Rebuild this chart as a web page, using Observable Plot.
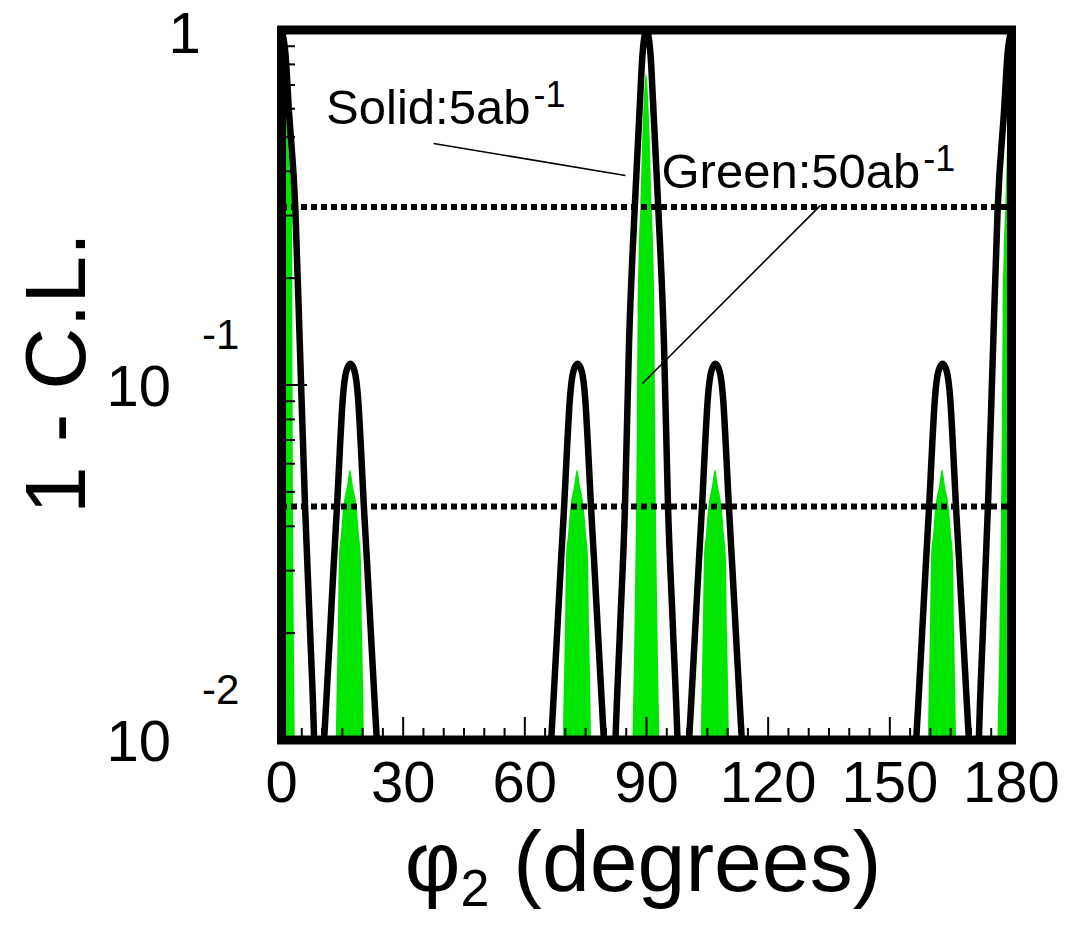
<!DOCTYPE html>
<html>
<head>
<meta charset="utf-8">
<script src="https://cdn.jsdelivr.net/npm/d3@7"></script>
<script src="https://cdn.jsdelivr.net/npm/@observablehq/plot@0.6"></script>
<style>
  html, body { margin: 0; padding: 0; background: #fff; }
  #chart svg { display: block; }
</style>
</head>
<body>
<div id="chart"></div>
<script>
// ---- Data ----
// Solid black curve: 1 - C.L. for 5 ab^-1 versus phi2 (degrees)
const solidPhi = [
  0, 1, 1.8, 3.4, 4.5, 5.8, 7, 8.1, 8.5, 9.3,
  10, 10.5, 11, 12, 13, 13.7, 14.4, 15.1, 16, 17, 18, 18.9, 19.6, 20.3, 21, 22, 23, 23.5, 24, 25,
  65, 66, 66.5, 67, 68, 69, 69.7, 70.4, 71.1, 72, 73, 74, 74.9, 75.6, 76.3, 77, 78, 79, 79.5, 80, 81,
  81.8, 82.3, 83.5, 84.7, 85.7, 87.1, 88.4, 89, 90, 91, 91.6, 92.9, 94.3, 95.3, 96.5, 97.7, 98.2, 99,
  100, 100.5, 101, 102, 103, 103.7, 104.4, 105.1, 106, 107, 108, 108.9, 109.6, 110.3, 111, 112, 113, 113.5, 114, 115,
  155, 156, 156.5, 157, 158, 159, 159.7, 160.4, 161.1, 162, 163, 164, 164.9, 165.6, 166.3, 167, 168, 169, 169.5, 170, 170.7,
  171.5, 171.9, 173, 174.2, 175.5, 176.6, 178.2, 179, 180
];
const solidCL = [
  1, 0.85, 0.6, 0.316, 0.132, 0.0457, 0.0209, 0.0095, 0.006, 0.001,
  0.0079, 0.01, 0.0126, 0.0204, 0.0331, 0.0457, 0.0661, 0.0912, 0.1096, 0.1148, 0.1096, 0.0912, 0.0661, 0.0457, 0.0331, 0.0204, 0.0126, 0.01, 0.0079, 0.001,
  0.001, 0.0079, 0.01, 0.0126, 0.0204, 0.0331, 0.0457, 0.0661, 0.0912, 0.1096, 0.1148, 0.1096, 0.0912, 0.0661, 0.0457, 0.0331, 0.0204, 0.0126, 0.01, 0.0079, 0.001,
  0.006, 0.00955, 0.0209, 0.0457, 0.132, 0.316, 0.631, 0.85, 1, 0.85, 0.631, 0.316, 0.132, 0.0457, 0.0209, 0.00955, 0.006, 0.001,
  0.0079, 0.01, 0.0126, 0.0204, 0.0331, 0.0457, 0.0661, 0.0912, 0.1096, 0.1148, 0.1096, 0.0912, 0.0661, 0.0457, 0.0331, 0.0204, 0.0126, 0.01, 0.0079, 0.001,
  0.001, 0.0079, 0.01, 0.0126, 0.0204, 0.0331, 0.0457, 0.0661, 0.0912, 0.1096, 0.1148, 0.1096, 0.0912, 0.0661, 0.0457, 0.0331, 0.0204, 0.0126, 0.01, 0.0079, 0.001,
  0.006, 0.0095, 0.0209, 0.0457, 0.132, 0.316, 0.6, 0.85, 1
];

// Green filled curve: 1 - C.L. for 50 ab^-1 versus phi2 (degrees)
const greenPhi = [
  0, 0.8, 1.5, 2.2, 2.7, 2.85, 3.0, 3.2, 3.4, 3.6, 4.5,
  12, 13.35, 13.55, 14, 14.3, 14.8, 15.4, 16.2, 17, 17.8, 18.6, 19.2, 19.7, 20, 20.45, 20.65, 22,
  68, 69.35, 69.55, 70, 70.3, 70.8, 71.4, 72.2, 73, 73.8, 74.6, 75.2, 75.7, 76, 76.45, 76.65, 78,
  85.5, 86.45, 86.7, 87.15, 87.5, 87.75, 87.95, 88.2, 88.6, 89.25, 89.65, 90, 90.35, 90.75, 91.4, 91.8, 92.05, 92.25, 92.5, 92.85, 93.3, 93.55, 94.5,
  102, 103.35, 103.55, 104, 104.3, 104.8, 105.4, 106.2, 107, 107.8, 108.6, 109.2, 109.7, 110, 110.45, 110.65, 112,
  158, 159.35, 159.55, 160, 160.3, 160.8, 161.4, 162.2, 163, 163.8, 164.6, 165.2, 165.7, 166, 166.45, 166.65, 168,
  175.5, 176.45, 176.7, 177.15, 177.5, 177.75, 177.95, 178.2, 178.6, 179.25, 179.65, 180
];
const greenCL = [
  0.76, 0.7, 0.55, 0.4, 0.33, 0.1, 0.036, 0.018, 0.01, 0.0063, 0.001,
  0.001, 0.0063, 0.01, 0.02, 0.0324, 0.038, 0.0457, 0.0513, 0.0575, 0.0513, 0.0457, 0.038, 0.0324, 0.02, 0.01, 0.0063, 0.001,
  0.001, 0.0063, 0.01, 0.02, 0.0324, 0.038, 0.0457, 0.0513, 0.0575, 0.0513, 0.0457, 0.038, 0.0324, 0.02, 0.01, 0.0063, 0.001,
  0.001, 0.0063, 0.01, 0.02, 0.0398, 0.0794, 0.158, 0.234, 0.316, 0.562, 0.692, 0.75, 0.692, 0.562, 0.316, 0.234, 0.158, 0.0794, 0.0398, 0.02, 0.01, 0.0063, 0.001,
  0.001, 0.0063, 0.01, 0.02, 0.0324, 0.038, 0.0457, 0.0513, 0.0575, 0.0513, 0.0457, 0.038, 0.0324, 0.02, 0.01, 0.0063, 0.001,
  0.001, 0.0063, 0.01, 0.02, 0.0324, 0.038, 0.0457, 0.0513, 0.0575, 0.0513, 0.0457, 0.038, 0.0324, 0.02, 0.01, 0.0063, 0.001,
  0.001, 0.0063, 0.01, 0.02, 0.0398, 0.0794, 0.158, 0.234, 0.316, 0.562, 0.692, 0.75
];

// Dotted reference levels (1 sigma and 2 sigma)
const clLevels = [0.3173, 0.0455];

// Axis ticks and labels
const xMajorTicks = [0, 30, 60, 90, 120, 150, 180];
const xMinorTicks = [5, 10, 15, 20, 25, 35, 40, 45, 50, 55, 65, 70, 75, 80, 85, 95, 100, 105, 110, 115,
                     125, 130, 135, 140, 145, 155, 160, 165, 170, 175];
const yMajorTicks = [1, 0.1, 0.01];
const yMajorLabels = ["1", "10|-1", "10|-2"];
const yMinorTicks = [0.02, 0.03, 0.04, 0.05, 0.06, 0.07, 0.08, 0.09, 0.2, 0.3, 0.4, 0.5, 0.6, 0.7, 0.8, 0.9];

// Annotations (text + pointer lines) in data coordinates
const annotLabels = ["Solid:5ab|-1", "Green:50ab|-1"];
const annotPhi = [11.0, 93.7];
const annotCL = [0.545, 0.36];
const pointerFromPhi = [37.5, 132.9];
const pointerFromCL = [0.479, 0.3206];
const pointerToPhi = [84.8, 89.0];
const pointerToCL = [0.389, 0.101];

const xTitle = "\u03C6|2| (degrees)";
const yTitle = "1 - C.L.";

// ---- Tables built from the arrays ----
const solid = solidPhi.map((p, i) => ({phi: p, cl: solidCL[i]}));
const green = greenPhi.map((p, i) => ({phi: p, cl: greenCL[i]}));
const yLabelRows = yMajorTicks.map((v, i) => ({value: v, label: yMajorLabels[i]}));
const annots = annotLabels.map((l, i) => ({label: l, phi: annotPhi[i], cl: annotCL[i]}));
const pointers = pointerFromPhi.map((p, i) => ({x1: p, y1: pointerFromCL[i], x2: pointerToPhi[i], y2: pointerToCL[i]}));

const GREEN = "#00e600";
const FONT = "'Liberation Sans', Arial, Helvetica, sans-serif";

const chart = Plot.plot({
  width: 1086,
  height: 934,
  marginLeft: 281,
  marginRight: 75,
  marginTop: 29.5,
  marginBottom: 194.5,
  style: {fontFamily: FONT, background: "white", color: "black", overflow: "visible"},
  x: {domain: [0, 180]},
  y: {type: "log", domain: [0.01, 1]},
  marks: [
    Plot.areaY(green, {x: "phi", y1: 0.001, y2: "cl", fill: GREEN, curve: "monotone-x", clip: true}),
    Plot.line(solid, {x: "phi", y: "cl", stroke: "black", strokeWidth: 6.5, curve: "monotone-x", clip: true}),
    Plot.ruleY(clLevels, {stroke: "black", strokeWidth: 6, strokeDasharray: "6,4"}),
    Plot.link(pointers, {x1: "x1", y1: "y1", x2: "x2", y2: "y2", stroke: "black", strokeWidth: 1.6}),
    Plot.text(annots, {x: "phi", y: "cl", text: "label", textAnchor: "start", lineAnchor: "bottom",
                       fontSize: 49, fill: "black"}),
    // inward ticks
    Plot.axisX({ticks: xMinorTicks, tickSize: -11.5, tickFormat: () => "", label: null, strokeWidth: 2}),
    Plot.axisX({ticks: xMajorTicks, tickSize: -22.5, tickFormat: () => "", label: null, strokeWidth: 2}),
    Plot.axisX({ticks: xMajorTicks, tickSize: 0, tickPadding: 20.5, fontSize: 58, label: null}),
    Plot.axisY({ticks: yMinorTicks, tickSize: -14, tickFormat: () => "", label: null, strokeWidth: 2}),
    Plot.axisY({ticks: yMajorTicks, tickSize: -26, tickFormat: () => "", label: null, strokeWidth: 2}),
    // y tick labels
    Plot.text(yLabelRows.filter(d => d.label === "1"), {y: "value", text: "label", frameAnchor: "left",
              dx: -97, dy: 4, textAnchor: "middle", fontSize: 58, fill: "black"}),
    Plot.text(yLabelRows.filter(d => d.label !== "1"), {y: "value", text: "label", frameAnchor: "left",
              dx: -175, dy: 2, textAnchor: "start", fontSize: 58, fill: "black"}),
    // axis titles
    Plot.text([xTitle], {text: d => d, frameAnchor: "bottom", dx: -3.5, dy: 150.5, lineAnchor: "bottom",
                         textAnchor: "middle", fontSize: 86, fill: "black"}),
    Plot.text([yTitle], {text: d => d, frameAnchor: "left", rotate: -90, dx: -224, dy: -12, textAnchor: "middle",
                         fontSize: 86, fill: "black"}),
    Plot.frame({stroke: "black", strokeWidth: 9})
  ]
});

// ---- Rich text: superscripts / subscripts ----
const NS = "http://www.w3.org/2000/svg";
function span(txt, attrs) {
  const t = document.createElementNS(NS, "tspan");
  for (const k in attrs) t.setAttribute(k, attrs[k]);
  t.textContent = txt;
  return t;
}
chart.querySelectorAll("text").forEach(el => {
  const s = el.textContent;
  if (!s.includes("|")) return;
  const parts = s.split("|");
  while (el.firstChild) el.removeChild(el.firstChild);
  if (parts.length === 3) {
    // axis title with subscript
    el.appendChild(document.createTextNode(parts[0]));
    el.appendChild(span(parts[1], {"font-size": 52, dy: 15}));
    el.appendChild(span(parts[2], {dy: -15}));
  } else if (parts[0] === "10") {
    // power-of-ten tick label
    el.appendChild(document.createTextNode(parts[0]));
    el.appendChild(span(parts[1], {"font-size": 42, dx: 31, dy: -57}));
  } else {
    // annotation with superscript
    el.appendChild(document.createTextNode(parts[0]));
    el.appendChild(span(parts[1], {"font-size": 36, dx: 3, dy: -17}));
  }
});

document.getElementById("chart").appendChild(chart);
</script>
</body>
</html>
